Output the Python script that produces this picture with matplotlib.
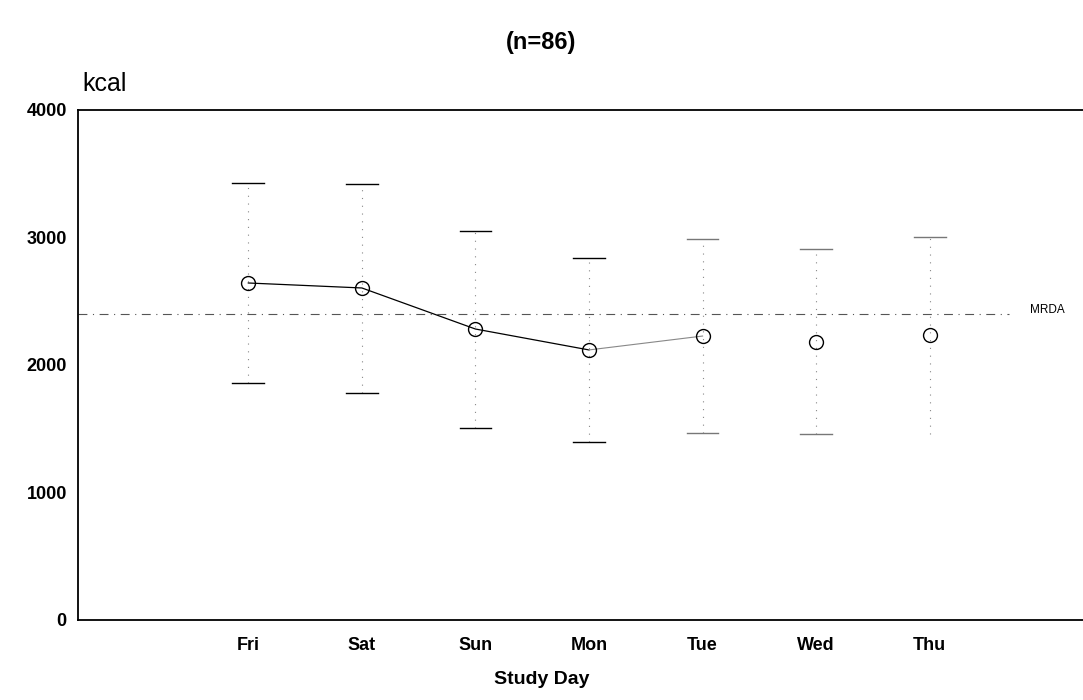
import numpy as np
import matplotlib
matplotlib.use("Agg")
import matplotlib.pyplot as plt

plt.rcParams['font.family'] = ['Liberation Sans', 'DejaVu Sans']

days = ["Fri", "Sat", "Sun", "Mon", "Tue", "Wed", "Thu"]
mean_kcal = [2643, 2604, 2282, 2118, 2227, 2180, 2235]
upper_kcal = [3427, 3420, 3051, 2839, 2988, 2910, 3004]
lower_kcal = [1859, 1780, 1506, 1396, 1467, 1459, 1460]
mrda = 2400

x = np.arange(len(days)) + 1.5

fig = plt.figure(figsize=(10.83, 7), dpi=100)
ax = fig.add_axes([0.072, 0.1143, 0.928, 0.7286])

# error bars: thin dotted stems, short caps
for i in range(len(days)):
    shade = "black" if i < 4 else "#777777"
    ax.plot([x[i], x[i]], [lower_kcal[i], upper_kcal[i]], color="#888888",
            lw=0.8, ls=(0, (1, 6)))
    ax.plot([x[i] - 0.14, x[i] + 0.14], [upper_kcal[i]] * 2, color=shade, lw=1.0)
    if i < 6:
        ax.plot([x[i] - 0.14, x[i] + 0.14], [lower_kcal[i]] * 2, color=shade, lw=1.0)

# MRDA reference line
ax.plot([0, 8.2], [mrda, mrda], color="#555555", lw=0.8, ls=(0, (8, 5, 1, 5)))
ax.text(8.38, mrda + 30, "MRDA", fontsize=8.5, ha="left", va="center")

# mean line
ax.plot(x[:4], mean_kcal[:4], color="black", lw=0.9)
ax.plot(x[3:5], mean_kcal[3:5], color="#888888", lw=0.8)
ax.plot(x, mean_kcal, ls="none", marker="o", ms=10, mfc="none",
        mec="black", mew=1.0)

ax.set_xlim(0, 8.85)
ax.set_ylim(0, 4000)
ax.set_xticks(x)
ax.set_xticklabels(days, fontsize=13)
ax.set_yticks([0, 1000, 2000, 3000, 4000])
ax.set_yticklabels(["0", "1000", "2000", "3000", "4000"], fontsize=13, fontweight="bold")
ax.tick_params(length=0, pad=8)
ax.tick_params(axis="x", pad=12)
for lab in ax.get_xticklabels():
    lab.set_fontweight("bold")

ax.spines["right"].set_visible(False)
for s in ["left", "top", "bottom"]:
    ax.spines[s].set_linewidth(1.3)

fig.text(0.5, 0.94, "(n=86)", ha="center", va="center", fontsize=17, fontweight="bold")
fig.text(0.076, 0.88, "kcal", ha="left", va="center", fontsize=18)
fig.text(0.5, 0.03, "Study Day", ha="center", va="center", fontsize=14, fontweight="bold")

fig.savefig("out.png", dpi=100)
